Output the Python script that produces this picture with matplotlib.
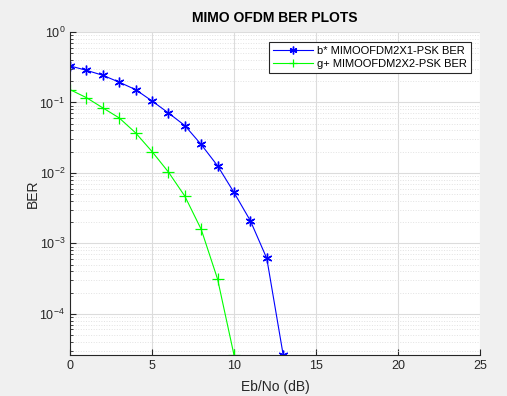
import numpy as np
import matplotlib
matplotlib.use("Agg")
import matplotlib.pyplot as plt
from matplotlib.ticker import LogLocator, NullFormatter, MultipleLocator

# Eb/No values (dB) and BER
snr_2x1 = [0, 1, 2, 3, 4, 5, 6, 7, 8, 9, 10, 11, 12, 13]
ber_2x1 = [0.33, 0.286, 0.243, 0.194, 0.152, 0.105, 0.071, 0.047, 0.0253,
           0.0126, 0.00527, 0.00209, 0.00061, 2.6e-5]

snr_2x2 = [0, 1, 2, 3, 4, 5, 6, 7, 8, 9, 10]
ber_2x2 = [0.152, 0.117, 0.0838, 0.0603, 0.037, 0.0201, 0.0103, 0.00468,
           0.00158, 0.00031, 2.6e-5]

labels = ["b* MIMOOFDM2X1-PSK BER", "g+ MIMOOFDM2X2-PSK BER"]

plt.rcParams["font.family"] = ["Liberation Sans", "DejaVu Sans"]

fig = plt.figure(figsize=(5.07, 3.96), dpi=100, facecolor="#f0f0f0")
ax = fig.add_axes([70 / 507, 1 - 355 / 396, 410 / 507, (355 - 32) / 396])

ax.semilogy(snr_2x1, ber_2x1, color="blue", marker=(6, 2, 0), markersize=7,
            markeredgewidth=1.0, linewidth=0.8, label=labels[0])
ax.semilogy(snr_2x2, ber_2x2, color="#00ff00", marker="+", markersize=8,
            markeredgewidth=0.9, linewidth=0.8, label=labels[1])

ax.set_xlim(0, 25)
ax.set_ylim(2.6e-5, 1)
ax.xaxis.set_major_locator(MultipleLocator(5))
ax.yaxis.set_major_locator(LogLocator(base=10, numticks=10))
ax.yaxis.set_minor_locator(LogLocator(base=10, subs=np.arange(2, 10), numticks=10))
ax.yaxis.set_minor_formatter(NullFormatter())

ax.grid(True, which="major", color="#dcdcdc", linewidth=0.8)
ax.grid(True, which="minor", axis="y", color="#e2e2e2", linestyle=":", linewidth=0.7)
ax.set_axisbelow(True)

for side in ["top", "right"]:
    ax.spines[side].set_visible(False)
for side in ["left", "bottom"]:
    ax.spines[side].set_color("#262626")
ax.tick_params(which="both", direction="in", colors="#262626", labelsize=9)
ax.tick_params(which="major", length=4)
ax.tick_params(which="minor", length=2)

ax.set_title("MIMO OFDM BER PLOTS", fontsize=10, fontweight="bold", pad=7)
ax.set_xlabel("Eb/No (dB)", fontsize=10, color="#262626", labelpad=6)
ax.set_ylabel("BER", fontsize=10, color="#262626", labelpad=0)

leg = ax.legend(loc="upper right", bbox_to_anchor=(0.978, 0.969),
                borderaxespad=0, fontsize=8,
                fancybox=False, framealpha=1, edgecolor="#262626",
                handlelength=3.6, borderpad=0.35, labelspacing=0.3,
                handletextpad=0.4, markerscale=0.8)
leg.get_frame().set_linewidth(0.8)

fig.savefig("out.png", dpi=100, facecolor=fig.get_facecolor())
